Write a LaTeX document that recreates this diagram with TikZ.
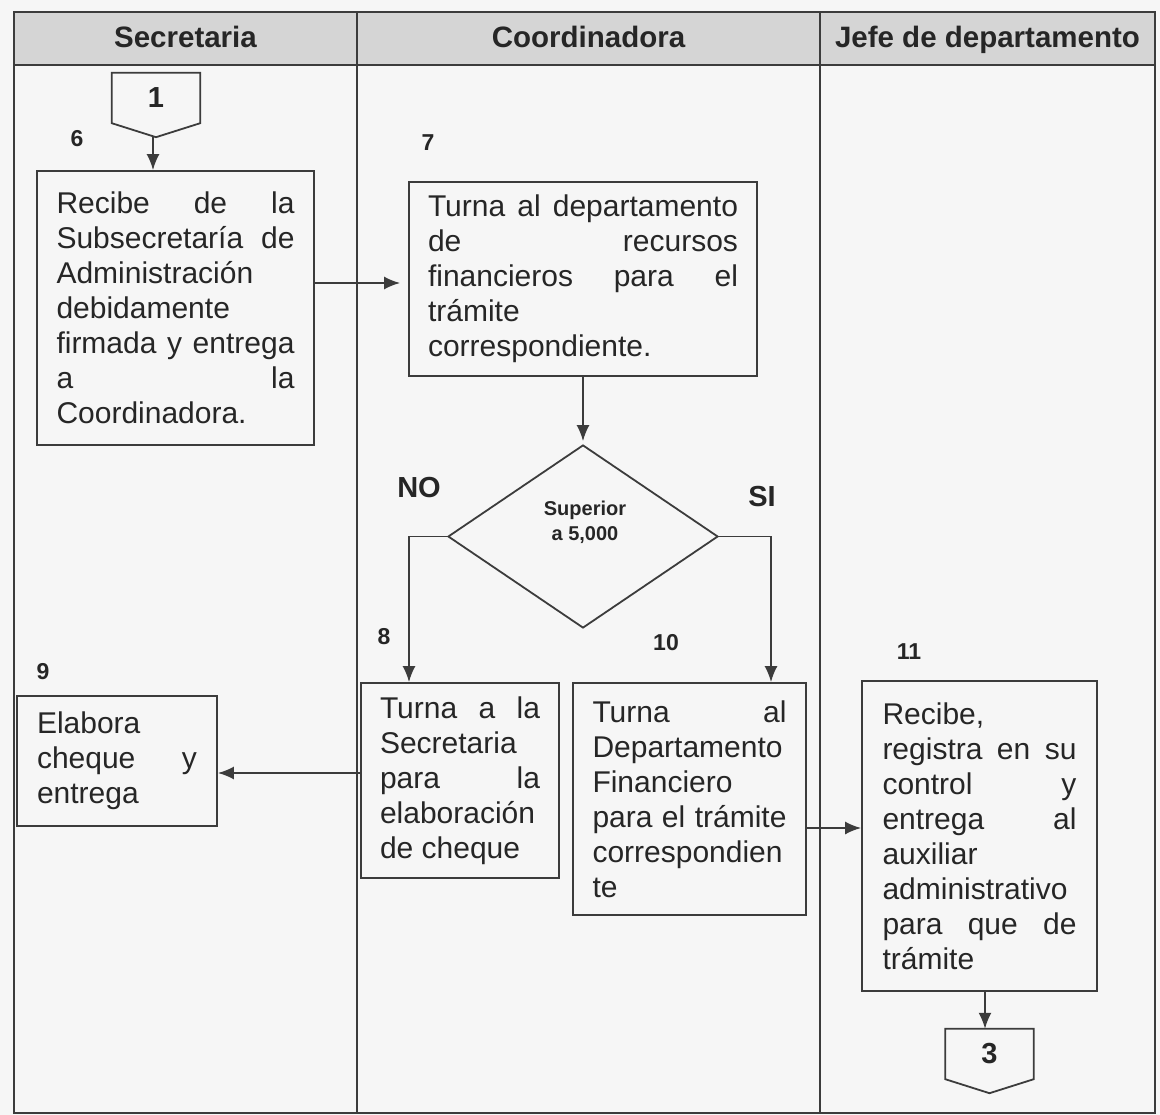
\documentclass[tikz,border=0pt]{standalone}
\usepackage{fontspec}
\setmainfont{Liberation Sans}
\usetikzlibrary{arrows.meta,shapes.geometric,calc}

\definecolor{ink}{HTML}{262626}
\definecolor{rule}{HTML}{3C3C3C}
\definecolor{headfill}{HTML}{D5D5D5}
\definecolor{paper}{HTML}{F6F6F6}

% one justified line / one left-set line inside a text block
\newcommand\jrow[1]{\hbox to \hsize{#1}}
\newcommand\lrow[1]{\hbox to \hsize{#1\hfil}}
\newcommand\textlines[2]{\vbox{\hsize=#1\relax #2}}

\begin{document}
\begin{tikzpicture}[x=1pt,y=-1pt,
  every node/.style={text=ink},
  grid/.style={draw=rule, line width=1.8pt},
  proc/.style={draw=rule, line width=1.8pt, fill=paper, inner sep=0pt,
    font=\fontsize{30}{35}\selectfont},
  head/.style={anchor=base, font=\bfseries\fontsize{29.5}{34}\selectfont},
  stepnum/.style={font=\bfseries\fontsize{23}{26}\selectfont},
  branch/.style={font=\bfseries\fontsize{29}{34}\selectfont},
  offpage/.style={minimum width=88pt, minimum height=50pt, inner sep=0pt,
    font=\bfseries\fontsize{29}{32}\selectfont},
  flow/.style={draw=rule, line width=1.8pt, -{Latex[length=16pt,width=13pt]}},
]
% page and table frame
\fill[paper] (0,0) rectangle (1160,1115);
\useasboundingbox (0,0) rectangle (1160,1115);
\fill[headfill] (14,12) rectangle (1155,65);
\draw[grid] (14,12) rectangle (1155,1113);
\draw[grid] (14,65) -- (1155,65);
\draw[grid] (357,12) -- (357,1113);
\draw[grid] (820,12) -- (820,1113);

% lane titles
\node[head] (h1) at (185.5,48) {Secretaria};
\node[head] (h2) at (588.5,48) {Coordinadora};
\node[head] (h3) at (987.5,48) {Jefe de departamento};

% off-page connector 1
\node[offpage] (con1) at (156,98) {1};
\coordinate (con1tip) at ($(con1.south)+(0,14)$);
\draw[rule, line width=1.8pt] (con1.north west) -- (con1.north east) -- (con1.south east)
  -- (con1tip) -- (con1.south west) -- cycle;

% step numbers
\node[stepnum] (n6) at (77,139) {6};
\node[stepnum] (n7) at (428,143) {7};
\node[stepnum] (n8) at (384,637) {8};
\node[stepnum] (n9) at (43,672) {9};
\node[stepnum] (n10) at (666,643) {10};
\node[stepnum] (n11) at (909,652) {11};

% process boxes
\node[proc, minimum width=277pt, minimum height=274pt] (b6) at (175.5,308) {\textlines{238pt}{%
  \jrow{Recibe de la}
  \jrow{Subsecretaría de}
  \lrow{Administración}
  \lrow{debidamente}
  \jrow{firmada y entrega}
  \jrow{a la}
  \lrow{Coordinadora.}}};

\node[proc, minimum width=348pt, minimum height=194pt] (b7) at (583,279) {\textlines{310pt}{%
  \jrow{Turna al departamento}
  \jrow{de recursos}
  \jrow{financieros para el}
  \lrow{trámite}
  \lrow{correspondiente.}}};

\node[proc, minimum width=198pt, minimum height=195pt] (b8) at (460,780.5) {\textlines{160pt}{%
  \jrow{Turna a la}
  \lrow{Secretaria}
  \jrow{para la}
  \lrow{elaboración}
  \lrow{de cheque}}};

\node[proc, minimum width=200pt, minimum height=130pt] (b9) at (117,761) {\textlines{160pt}{%
  \lrow{Elabora}
  \jrow{cheque y}
  \lrow{entrega}}};

\node[proc, minimum width=233pt, minimum height=232pt] (b10) at (689.5,799) {\textlines{194pt}{%
  \jrow{Turna al}
  \lrow{Departamento}
  \lrow{Financiero}
  \jrow{para el trámite}
  \lrow{correspondien}
  \lrow{te}}};

\node[proc, minimum width=235pt, minimum height=310pt] (b11) at (979.5,836) {\textlines{194pt}{%
  \lrow{Recibe,}
  \jrow{registra en su}
  \jrow{control y}
  \jrow{entrega al}
  \lrow{auxiliar}
  \lrow{administrativo}
  \jrow{para que de}
  \lrow{trámite}}};

% decision
\node[diamond, draw=rule, line width=1.8pt, fill=paper, aspect=1.475,
  minimum width=270pt, minimum height=183pt, inner sep=0pt] (dec) at (583,536.5) {};
\node[font=\bfseries\fontsize{20}{25}\selectfont, align=center] (dectxt) at (585,522)
  {Superior\\a 5,000};
\node[branch] (no) at (419,488) {NO};
\node[branch] (si) at (762,497) {SI};

% off-page connector 3
\node[offpage] (con3) at (989.5,1054) {3};
\coordinate (con3tip) at ($(con3.south)+(0,14)$);
\draw[rule, line width=1.8pt] (con3.north west) -- (con3.north east) -- (con3.south east)
  -- (con3tip) -- (con3.south west) -- cycle;

% connectors
\coordinate (x1) at (153,0);
\coordinate (r67) at (0,283);
\coordinate (xno) at (409,0);
\coordinate (xsi) at (771,0);
\coordinate (r89) at (0,773);
\coordinate (r1011) at (0,828);
\coordinate (x3) at (985,0);

\draw[flow] (con1tip -| x1) -- (b6.north -| x1);
\draw[flow, shorten >=8pt] (b6.east |- r67) -- (b7.west |- r67);
\draw[flow, shorten >=3pt] (b7.south) -- (dec.north);
\draw[flow] (dec.west) -| (b8.north -| xno);
\draw[flow] (dec.east) -| (b10.north -| xsi);
\draw[flow] (b8.west |- r89) -- (b9.east |- r89);
\draw[flow] (b10.east |- r1011) -- (b11.west |- r1011);
\draw[flow] (b11.south -| x3) -- (con3.north -| x3);
\end{tikzpicture}
\end{document}
